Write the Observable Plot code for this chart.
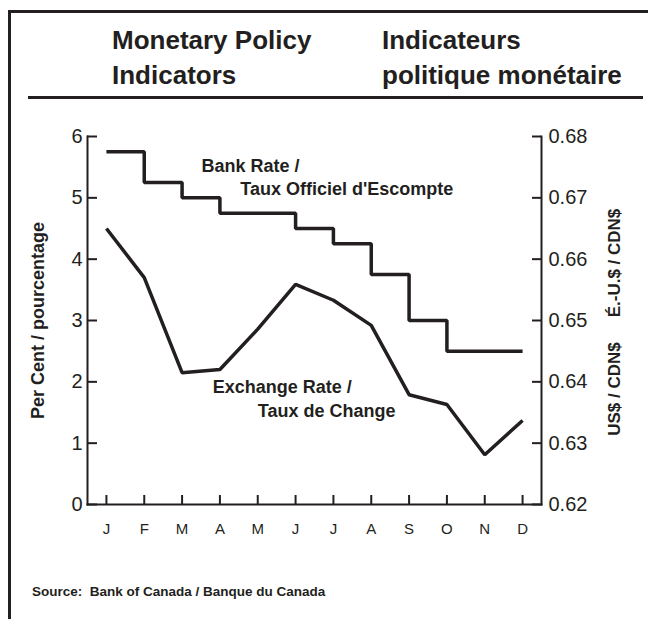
<!DOCTYPE html>
<html>
<head>
<meta charset="utf-8">
<script src="https://cdn.jsdelivr.net/npm/d3@7"></script>
<script src="https://cdn.jsdelivr.net/npm/@observablehq/plot@0.6"></script>
<style>
  html, body { margin: 0; padding: 0; background: #fff; }
  #page { position: relative; width: 648px; height: 619px; overflow: hidden; background: #fff;
          font-family: "Liberation Sans", Arial, Helvetica, sans-serif; color: #231f20; }
  .border-top { position: absolute; left: 8px; top: 10px; width: 640px; height: 3px; background: #231f20; }
  .border-left { position: absolute; left: 8px; top: 10px; width: 3px; height: 609px; background: #231f20; }
  .rule { position: absolute; left: 28px; top: 96px; width: 615px; height: 3px; background: #231f20; }
  .title { position: absolute; top: 22.5px; font-weight: bold; font-size: 26px; line-height: 35px; white-space: nowrap; }
  #chart { position: absolute; left: 0; top: 110px; }
  .source { position: absolute; left: 32px; top: 584px; font-weight: bold; font-size: 13.5px; white-space: pre; }
</style>
</head>
<body>
<div id="page">
  <div class="border-top"></div>
  <div class="border-left"></div>
  <div class="title" style="left:112px">Monetary Policy<br>Indicators</div>
  <div class="title" style="left:382px">Indicateurs<br>politique monétaire</div>
  <div class="rule"></div>
  <div id="chart"></div>
  <div class="source">Source:  Bank of Canada / Banque du Canada</div>
</div>
<script>
// ---- data ----
const months = ["J", "F", "M", "A", "M", "J", "J", "A", "S", "O", "N", "D"];
const bankRate = [5.75, 5.25, 5.0, 4.75, 4.75, 4.5, 4.25, 3.75, 3.0, 2.5, 2.5, 2.5]; // per cent
const exchangeRate = [0.6650, 0.6570, 0.6415, 0.6420, 0.6486, 0.6559, 0.6533, 0.6492, 0.6379, 0.6363, 0.6281, 0.6337]; // US$/CDN$
const leftTicks = [0, 1, 2, 3, 4, 5, 6];
const rightTicks = [0.62, 0.63, 0.64, 0.65, 0.66, 0.67, 0.68];
const yLabel = "Per Cent / pourcentage";
const rightLabelA = "US$ / CDN$";
const rightLabelB = "É.-U.$ / CDN$";

// secondary axis mapping (US$/CDN$ -> per cent scale)
const rightBase = 0.62, rightStep = 0.01;
const toLeft = v => (v - rightBase) / rightStep;

const W = 648, H = 450, mL = 87, mR = 107, mT = 26, mB = 56;
const plotW = W - mL - mR, plotH = H - mT - mB;
const ink = "#231f20";
const idx = months.map((m, i) => i);
const tickFont = '"Liberation Sans", Arial, Helvetica, sans-serif';

const chart = Plot.plot({
  width: W, height: H,
  marginLeft: mL, marginRight: mR, marginTop: mT, marginBottom: mB,
  x: {type: "linear", domain: [-0.5, months.length - 0.5]},
  y: {domain: [leftTicks[0], leftTicks[leftTicks.length - 1]]},
  style: {fontFamily: '"Liberation Sans", Arial, Helvetica, sans-serif', color: ink, background: "transparent", overflow: "visible"},
  marks: [
    // axis lines
    Plot.frame({anchor: "left", stroke: ink, strokeWidth: 2}),
    Plot.frame({anchor: "right", stroke: ink, strokeWidth: 2}),
    Plot.frame({anchor: "bottom", stroke: ink, strokeWidth: 2}),
    // inward ticks
    Plot.tickY(leftTicks, {y: d => d, insetRight: plotW - 10, stroke: ink, strokeWidth: 2}),
    Plot.tickY(rightTicks.map(toLeft), {y: d => d, insetLeft: plotW - 9, stroke: ink, strokeWidth: 2}),
    Plot.tickX(idx, {x: d => d, insetTop: plotH - 9, stroke: ink, strokeWidth: 2}),
    // axis labels
    Plot.axisY(leftTicks, {anchor: "left", tickSize: 0, tickPadding: 5, label: null,
      tickFormat: d => String(d), fontSize: 20, fontFamily: tickFont, fill: ink}),
    Plot.axisY(rightTicks.map(toLeft), {anchor: "right", tickSize: 0, tickPadding: 7, label: null,
      tickFormat: d => (rightBase + d * rightStep).toFixed(2),
      fontSize: 20, fontFamily: tickFont, fill: ink}),
    Plot.axisX(idx, {anchor: "bottom", tickSize: 0, tickPadding: 19, label: null,
      tickFormat: i => months[i], fontSize: 15, fill: ink}),
    // rotated axis titles
    Plot.text([yLabel], {text: d => d, frameAnchor: "left", dx: -49, rotate: -90,
      textAnchor: "middle", lineAnchor: "middle",
      fontSize: 18, fontWeight: "bold", fill: ink}),
    Plot.text([rightLabelA], {text: d => d, frameAnchor: "right", dx: 73, dy: 68.5, rotate: -90,
      textAnchor: "middle", lineAnchor: "middle",
      fontSize: 17, fontWeight: "bold", fill: ink}),
    Plot.text([rightLabelB], {text: d => d, frameAnchor: "right", dx: 73, dy: -57.5, rotate: -90,
      textAnchor: "middle", lineAnchor: "middle",
      fontSize: 17, fontWeight: "bold", fill: ink}),
    // series
    Plot.line(bankRate, {x: (d, i) => i, y: d => d, curve: "step-after",
      stroke: ink, strokeWidth: 3.5, strokeLinejoin: "miter", strokeLinecap: "butt"}),
    Plot.line(exchangeRate, {x: (d, i) => i, y: d => toLeft(d),
      stroke: ink, strokeWidth: 3.5, strokeLinejoin: "miter", strokeLinecap: "butt"}),
    // annotations
    Plot.text(["Bank Rate /"], {text: d => d, x: 2.51, y: 5.42, textAnchor: "start", lineAnchor: "bottom",
      fontSize: 18, fontWeight: "bold", fill: ink}),
    Plot.text(["Taux Officiel d'Escompte"], {text: d => d, x: 3.54, y: 5.05, textAnchor: "start", lineAnchor: "bottom",
      fontSize: 18, fontWeight: "bold", fill: ink}),
    Plot.text(["Exchange Rate /"], {text: d => d, x: 2.81, y: 1.81, textAnchor: "start", lineAnchor: "bottom",
      fontSize: 18, fontWeight: "bold", fill: ink}),
    Plot.text(["Taux de Change"], {text: d => d, x: 4.0, y: 1.42, textAnchor: "start", lineAnchor: "bottom",
      fontSize: 18, fontWeight: "bold", fill: ink})
  ]
});
document.getElementById("chart").appendChild(chart);
</script>
</body>
</html>
